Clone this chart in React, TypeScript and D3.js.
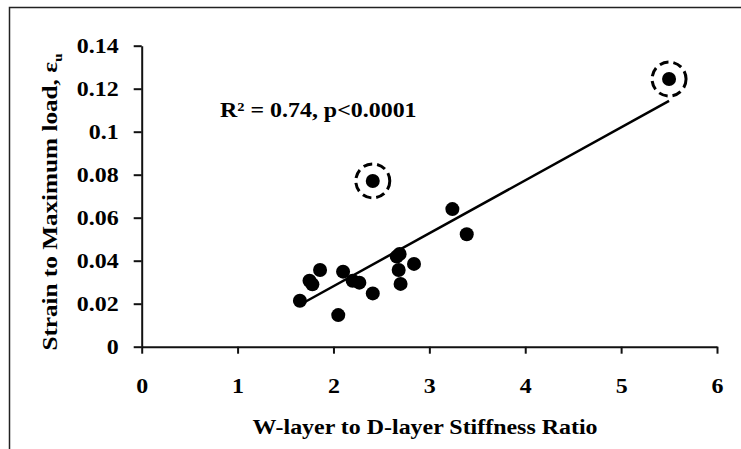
import React, { useEffect, useRef } from "react";
import * as d3 from "d3";

// stiffness ratio (x) and strain to max load (y)
const ratio = [1.65, 1.75, 1.78, 1.86, 2.05, 2.1, 2.2, 2.27, 2.41, 2.66, 2.69, 2.68, 2.7, 2.84, 3.24, 3.39, 2.41, 5.5];
const strain = [0.0214, 0.0307, 0.029, 0.0357, 0.0147, 0.0349, 0.0307, 0.0298, 0.0248, 0.0419, 0.0431, 0.0357, 0.0292, 0.0385, 0.064, 0.0523, 0.0771, 0.1245];
// points circled as outliers
const outliers = [16, 17];

const xTicks = [0, 1, 2, 3, 4, 5, 6];
const yTicks = [0, 0.02, 0.04, 0.06, 0.08, 0.1, 0.12, 0.14];

// linear fit shown on the chart
const fitSlope = 0.02462;
const fitIntercept = -0.0211;
const fitLabel = "R² = 0.74, p<0.0001";

const App = () => {
  const ref = useRef<SVGSVGElement>(null);

  useEffect(() => {
    const svg = d3.select(ref.current);
    svg.selectAll("*").remove();

    const font = "'Liberation Serif', 'Times New Roman', serif";
    const sx = 1.14; // the original text is a bit wide

    const x = d3.scaleLinear().domain([0, 6]).range([141.7, 717]);
    const y = d3.scaleLinear().domain([0, 0.14]).range([346.7, 45.7]);

    // frame
    svg.append("path")
      .attr("d", "M9.5,449 L9.5,7.5 L741,7.5")
      .attr("fill", "none")
      .attr("stroke", "#222")
      .attr("stroke-width", 1.5);

    // x axis
    const gx = svg.append("g")
      .attr("transform", `translate(0, ${y(0)})`)
      .call(d3.axisBottom(x).tickValues(xTicks).tickSize(7).tickSizeOuter(0).tickFormat(d => String(d)));
    gx.select(".domain").attr("stroke", "#111").attr("stroke-width", 2);
    gx.selectAll(".tick line").attr("stroke", "#111").attr("stroke-width", 2);
    gx.selectAll(".tick text")
      .attr("y", 31)
      .attr("transform", `scale(${sx},1)`)
      .attr("font-family", font)
      .attr("font-weight", "bold")
      .attr("font-size", 21)
      .attr("fill", "#000");

    // y axis
    const gy = svg.append("g")
      .attr("transform", `translate(${x(0)}, 0)`)
      .call(d3.axisLeft(y).tickValues(yTicks).tickSize(8).tickSizeOuter(0).tickFormat(d => String(+(+d).toFixed(2))));
    gy.select(".domain").attr("stroke", "#111").attr("stroke-width", 2);
    gy.selectAll(".tick line").attr("stroke", "#111").attr("stroke-width", 2);
    gy.selectAll(".tick text")
      .attr("x", -23 / sx)
      .attr("transform", `scale(${sx},1)`)
      .attr("font-family", font)
      .attr("font-weight", "bold")
      .attr("font-size", 21)
      .attr("fill", "#000");

    // axis titles
    svg.append("text")
      .attr("transform", `translate(425, 434) scale(${sx},1)`)
      .attr("text-anchor", "middle")
      .attr("font-family", font)
      .attr("font-weight", "bold")
      .attr("font-size", 21)
      .text("W-layer to D-layer Stiffness Ratio");

    const yt = svg.append("text")
      .attr("transform", `translate(57, 202) rotate(-90) scale(1.2,1)`)
      .attr("text-anchor", "middle")
      .attr("font-family", font)
      .attr("font-weight", "bold")
      .attr("font-size", 21);
    yt.append("tspan").text("Strain to Maximum load, ε");
    yt.append("tspan").attr("dy", 5).attr("font-size", 13).text("u");

    // fit line
    const [x0, x1] = d3.extent(ratio) as [number, number];
    svg.append("line")
      .attr("x1", x(x0))
      .attr("y1", y(fitSlope * x0 + fitIntercept))
      .attr("x2", x(x1))
      .attr("y2", y(fitSlope * x1 + fitIntercept))
      .attr("stroke", "#000")
      .attr("stroke-width", 2.5);

    // points
    svg.selectAll("circle.pt")
      .data(ratio)
      .enter()
      .append("circle")
      .attr("class", "pt")
      .attr("cx", d => x(d))
      .attr("cy", (d, i) => y(strain[i]))
      .attr("r", 7)
      .attr("fill", "#000");

    // dashed rings round the outliers
    svg.selectAll("circle.ring")
      .data(outliers)
      .enter()
      .append("circle")
      .attr("class", "ring")
      .attr("cx", i => x(ratio[i]))
      .attr("cy", i => y(strain[i]))
      .attr("r", 17)
      .attr("fill", "none")
      .attr("stroke", "#000")
      .attr("stroke-width", 3)
      .attr("stroke-dasharray", "9,5");

    svg.append("text")
      .attr("transform", `translate(220, 117) scale(${sx},1)`)
      .attr("font-family", font)
      .attr("font-weight", "bold")
      .attr("font-size", 21)
      .text(fitLabel);
  }, []);

  return (
    <svg
      ref={ref}
      width={741}
      height={449}
      style={{ position: "absolute", left: 0, top: 0, background: "#fff" }}
    />
  );
};

export default App;
